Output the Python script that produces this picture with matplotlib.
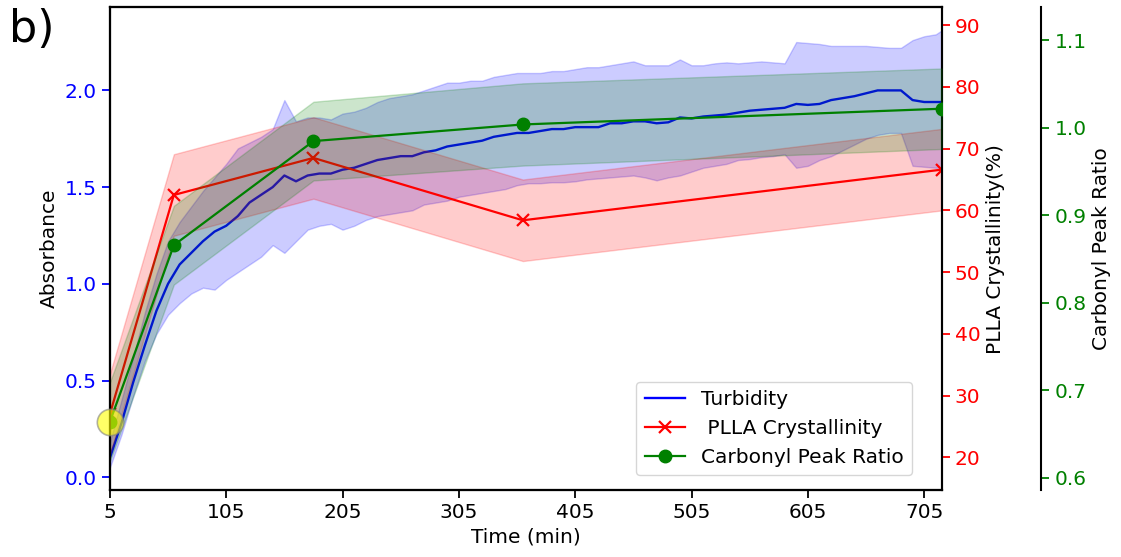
import numpy as np
import matplotlib
matplotlib.use("Agg")
import matplotlib.pyplot as plt

# turbidity (absorbance) mean with upper / lower envelope
turb_time = [5, 15, 25, 35, 45, 55, 65, 75, 85, 95, 105, 115, 125, 135, 145, 155,
             165, 175, 185, 195, 205, 215, 225, 235, 245, 255, 265, 275, 285, 295,
             305, 315, 325, 335, 345, 355, 365, 375, 385, 395, 405, 415, 425, 435,
             445, 455, 465, 475, 485, 495, 505, 515, 525, 535, 545, 555, 565, 575,
             585, 595, 605, 615, 625, 635, 645, 655, 665, 675, 685, 695, 705, 715, 720]
turb_mean = [0.10, 0.28, 0.49, 0.68, 0.86, 1.00, 1.10, 1.16, 1.22, 1.27, 1.30, 1.35,
             1.42, 1.46, 1.50, 1.56, 1.53, 1.56, 1.57, 1.57, 1.59, 1.60, 1.62, 1.64,
             1.65, 1.66, 1.66, 1.68, 1.69, 1.71, 1.72, 1.73, 1.74, 1.76, 1.77, 1.78,
             1.78, 1.79, 1.80, 1.80, 1.81, 1.81, 1.81, 1.83, 1.83, 1.84, 1.84, 1.83,
             1.835, 1.86, 1.855, 1.865, 1.87, 1.875, 1.885, 1.895, 1.90, 1.905, 1.91,
             1.93, 1.925, 1.93, 1.95, 1.96, 1.97, 1.985, 2.00, 2.00, 2.00, 1.95, 1.94,
             1.94, 1.94]
turb_upper = [0.18, 0.40, 0.62, 0.85, 1.05, 1.22, 1.32, 1.40, 1.48, 1.55, 1.62, 1.70,
              1.73, 1.76, 1.80, 1.95, 1.84, 1.86, 1.86, 1.85, 1.88, 1.89, 1.91, 1.94,
              1.96, 1.97, 1.98, 2.00, 2.02, 2.04, 2.04, 2.05, 2.05, 2.07, 2.08, 2.09,
              2.09, 2.09, 2.10, 2.10, 2.11, 2.12, 2.12, 2.13, 2.14, 2.15, 2.13, 2.13,
              2.13, 2.16, 2.13, 2.13, 2.14, 2.145, 2.14, 2.145, 2.15, 2.145, 2.14,
              2.25, 2.245, 2.24, 2.23, 2.23, 2.23, 2.23, 2.225, 2.22, 2.22, 2.26, 2.28,
              2.29, 2.31]
turb_lower = [0.05, 0.22, 0.42, 0.60, 0.74, 0.84, 0.90, 0.95, 0.98, 0.97, 1.02, 1.06,
              1.10, 1.14, 1.20, 1.16, 1.22, 1.28, 1.30, 1.31, 1.28, 1.30, 1.33, 1.35,
              1.36, 1.37, 1.38, 1.41, 1.42, 1.43, 1.45, 1.46, 1.47, 1.48, 1.49, 1.51,
              1.52, 1.52, 1.525, 1.525, 1.53, 1.54, 1.545, 1.55, 1.555, 1.56, 1.55,
              1.535, 1.55, 1.56, 1.58, 1.60, 1.61, 1.62, 1.64, 1.645, 1.655, 1.66,
              1.67, 1.60, 1.61, 1.64, 1.66, 1.69, 1.72, 1.75, 1.77, 1.78, 1.78, 1.61,
              1.605, 1.60, 1.60]

# sampled measurements
sample_time = [5, 60, 180, 360, 720]
cryst = [27.0, 62.5, 68.5, 58.4, 66.6]
cryst_std = [6.5, 6.6, 6.6, 6.6, 6.6]
carbonyl = [0.664, 0.866, 0.985, 1.004, 1.022]
carbonyl_std = [0.045, 0.045, 0.045, 0.047, 0.046]

xticks = [5, 105, 205, 305, 405, 505, 605, 705]

plt.rcParams["font.family"] = "DejaVu Sans"
plt.rcParams["font.size"] = 14.5

fig = plt.figure(figsize=(11.21, 5.57), dpi=100)
ax1 = fig.add_axes([0.098, 0.120, 0.742, 0.867])
ax2 = ax1.twinx()
ax3 = ax1.twinx()
ax3.spines["right"].set_position(("axes", 1.12))

t = np.array(turb_time)
l1, = ax1.plot(t, turb_mean, color="blue", lw=1.7, label="Turbidity")
ax1.fill_between(t, turb_lower, turb_upper, color="blue", alpha=0.2)

c = np.array(cryst)
cs = np.array(cryst_std)
l2, = ax2.plot(sample_time, c, color="red", marker="x", ms=9, mew=1.6, lw=1.6,
               label=" PLLA Crystallinity")
ax2.fill_between(sample_time, c - cs, c + cs, color="red", alpha=0.2)

g = np.array(carbonyl)
gs = np.array(carbonyl_std)
l3, = ax3.plot(sample_time, g, color="green", marker="o", ms=9, lw=1.6,
               label="Carbonyl Peak Ratio")
ax3.fill_between(sample_time, g - gs, g + gs, color="green", alpha=0.2)

# highlight the starting point
ax3.plot(sample_time[0], carbonyl[0], "o", ms=19, color="yellow", alpha=0.6,
         mec="grey", mew=1.2, clip_on=False, zorder=5)

ax1.set_xlim(5, 720)
ax1.set_xticks(xticks)
ax1.set_ylim(-0.067, 2.43)
ax2.set_ylim(14.7, 92.9)
ax3.set_ylim(0.586, 1.138)
ax1.set_yticks([0.0, 0.5, 1.0, 1.5, 2.0])
ax2.set_yticks([20, 30, 40, 50, 60, 70, 80, 90])
ax3.set_yticks([0.6, 0.7, 0.8, 0.9, 1.0, 1.1])

ax1.set_xlabel("Time (min)")
ax1.set_ylabel("Absorbance")
ax2.set_ylabel("PLLA Crystallinity(%)")
ax3.set_ylabel("Carbonyl Peak Ratio")

ax1.tick_params(axis="y", colors="blue", length=6, width=1.3)
ax1.tick_params(axis="x", length=6, width=1.3)
ax2.tick_params(axis="y", colors="red", length=6, width=1.3)
ax3.tick_params(axis="y", colors="green", length=6, width=1.3)
for ax in (ax1, ax2, ax3):
    for sp in ax.spines.values():
        sp.set_linewidth(1.5)

ax3.legend(handles=[l1, l2, l3], loc="lower right",
           bbox_to_anchor=(0.964, 0.031), borderaxespad=0)

fig.text(0.008, 0.985, "b)", fontsize=32, va="top", ha="left")

fig.savefig("out.png", dpi=100)
